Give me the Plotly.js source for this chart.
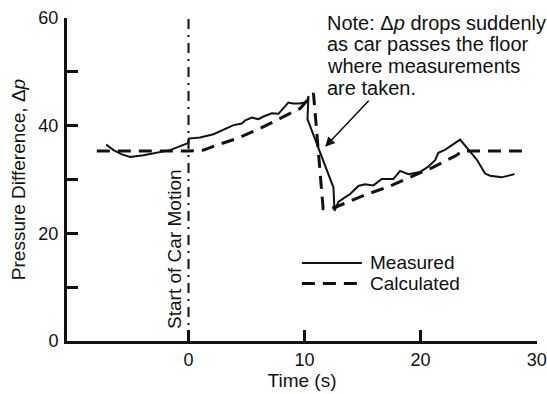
<!DOCTYPE html>
<html><head><meta charset="utf-8">
<script src="https://cdn.plot.ly/plotly-3.0.1.min.js"></script>
<style>html,body{margin:0;padding:0;background:#fff}#chart{width:547px;height:394px}</style>
</head><body><div id="chart"></div>
<script>
// Measured pressure difference
const measuredT = [-7.09,-6.46,-5.74,-5.02,-3.88,-2.72,-1.58,-0.71,0,0.02,1.0,2.15,3.0,3.88,4.6,4.9,5.46,6.03,6.46,7.18,7.75,8.04,8.47,8.6,9.0,9.6,10.2,10.34,10.25,12.49,12.58,12.92,13.35,13.93,14.64,15.2,15.93,16.66,17.66,18.23,18.95,19.96,20.67,21.25,21.53,22.1,23.4,24.26,24.84,25.55,25.99,26.99,28.1];
const measuredV = [36.5,35.46,34.66,34.2,34.5,34.96,35.46,36.2,36.8,37.6,37.8,38.4,39.3,40.1,40.4,41.0,41.5,41.2,41.7,42.3,42.2,42.9,43.8,44.3,44.1,44.1,44.4,45.5,41.2,28.5,24.2,25.85,26.5,27.3,28.8,29.1,28.9,30.1,30.1,31.6,31.0,31.4,32.4,33.6,34.96,35.5,37.4,35.3,33.7,31.1,30.7,30.4,31.0];
// Calculated pressure difference
const calcT = [-7.9,0,1.3,2.45,4.17,6.18,7.9,9.62,10.77,11.6,12.6,15.07,17.37,21.1,23.1,23.6,28.85];
const calcV = [35.3,35.3,35.46,36.4,37.6,39.5,41.35,43.2,46.0,24.6,24.8,27.0,28.8,32.3,34.5,35.3,35.3];
// Start of car motion marker
const startT = [0,0];
const startV = [0,60];
// Axis ticks
const yTickVals = [0,10,20,30,40,50,60];
const yTickText = ['0','','20','','40','','60'];
const xTickVals = [0,10,20,30];
const xTickText = ['0','10','20','30'];
const noteLines = ['Note: Δ<i>p</i> drops suddenly','as car passes the floor','where measurements','are taken.'];
const noteY = [59.1,55.15,51.1,47.05];

const FONT = 'Arial, "Liberation Sans", sans-serif';
const ink = '#111';

const traces = [
  {x:startT,y:startV,mode:'lines',line:{color:ink,width:2,dash:'10px,6px,2px,6px'},showlegend:false,hoverinfo:'skip'},
  {x:calcT,y:calcV,mode:'lines',line:{color:ink,width:3,dash:'13px,8px'},name:'Calculated',showlegend:false},
  {x:measuredT,y:measuredV,mode:'lines',line:{color:ink,width:2},name:'Measured',showlegend:false}
];

const annotations = noteLines.map((t,i)=>({x:11.77,y:noteY[i],xref:'x',yref:'y',text:t,showarrow:false,xanchor:'left',yanchor:'middle',font:{family:FONT,size:20,color:ink}}));
annotations.push({x:11.77,y:36.07,xref:'x',yref:'y',ax:15.65,ay:44.9,axref:'x',ayref:'y',text:'',showarrow:true,arrowhead:2,arrowsize:1.3,arrowwidth:1.5,arrowcolor:ink});
annotations.push({x:-1.15,y:16.95,xref:'x',yref:'y',text:'Start of Car Motion',textangle:-90,showarrow:false,font:{family:FONT,size:19,color:ink}});
annotations.push({x:15.48,y:14.5,xref:'x',yref:'y',text:'Measured',showarrow:false,xanchor:'left',yanchor:'middle',font:{family:FONT,size:19,color:ink}});
annotations.push({x:15.48,y:10.67,xref:'x',yref:'y',text:'Calculated',showarrow:false,xanchor:'left',yanchor:'middle',font:{family:FONT,size:19,color:ink}});

const shapes = [
  {type:'line',xref:'x',yref:'y',x0:9.77,x1:14.94,y0:14.5,y1:14.5,line:{color:ink,width:2}},
  {type:'line',xref:'x',yref:'y',x0:9.77,x1:14.94,y0:10.67,y1:10.67,line:{color:ink,width:3,dash:'13px,8px'}}
];

const layout = {
  width:547,height:394,
  margin:{l:67,r:10,t:18,b:53},
  paper_bgcolor:'#fff',plot_bgcolor:'#fff',
  font:{family:FONT,size:19,color:ink},
  xaxis:{range:[-10.47,30.03],tickvals:xTickVals,ticktext:xTickText,ticks:'inside',ticklen:11,tickwidth:3,tickcolor:ink,
    showline:true,linewidth:3,linecolor:ink,showgrid:false,zeroline:false,ticklabelstandoff:0,ticklabeloverflow:'allow',
    tickfont:{family:FONT,size:18,color:ink},title:{text:'Time (s)',standoff:2,font:{family:FONT,size:19,color:ink}}},
  yaxis:{range:[0,60],tickvals:yTickVals,ticktext:yTickText,ticks:'inside',ticklen:11,tickwidth:3,tickcolor:ink,
    showline:true,linewidth:3,linecolor:ink,showgrid:false,zeroline:false,ticklabelstandoff:2,
    tickfont:{family:FONT,size:18,color:ink},title:{text:'Pressure Difference, Δ<i>p</i>',standoff:8,font:{family:FONT,size:19,color:ink}}},
  annotations:annotations,shapes:shapes,showlegend:false
};
Plotly.newPlot('chart',traces,layout,{displayModeBar:false,staticPlot:true});
</script></body></html>
